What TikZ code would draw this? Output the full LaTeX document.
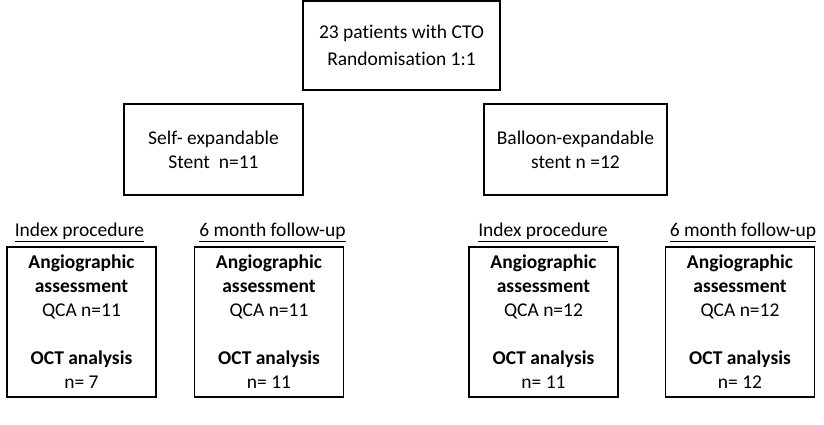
\documentclass[tikz,border=0pt]{standalone}
\usepackage{fontspec}
\setmainfont{Carlito}[Ligatures=NoCommon]
\tikzset{
  armbox/.style={draw, line width=1.3pt, align=center, inner sep=0pt},
  resultbox/.style={draw, line width=1.3pt, align=center, inner sep=0pt,
    minimum width=149pt, minimum height=150pt},
  phase/.style={align=center, inner sep=0pt}
}
\begin{document}
\begin{tikzpicture}[x=1pt, y=1pt, font=\fontsize{19.5}{24}\selectfont]
  \useasboundingbox (0, 0) rectangle (824, 425);

  % Randomisation
  \node [armbox, minimum width=197pt, minimum height=89pt,
    font=\fontsize{19.5}{27}\selectfont] (random) at (401.5, 379.5)
    {23 patients with CTO\\Randomisation 1:1};

  % Two stent arms
  \node [armbox, minimum width=179pt, minimum height=91pt] (selfexp) at (213.5, 275.5)
    {Self- expandable\\Stent\ \ n=11};
  \node [armbox, minimum width=183pt, minimum height=91pt] (balloon) at (575.5, 275.5)
    {Balloon-expandable\\stent n =12};

  % Index procedure and follow-up per arm
  \foreach \name/\cx/\hx/\head/\qca/\oct in {
    selfidx/81.5/79.5/Index procedure/11/7,
    selffup/269/272.5/6 month follow-up/11/11,
    ballidx/543.5/543/Index procedure/12/11,
    ballfup/740/743/6 month follow-up/12/12
  } {
    \node [phase] (\name-head) at (\hx, 193) {\underline{\head}};
    \node [resultbox] (\name) at (\cx, 103)
      {\textbf{Angiographic}\\\textbf{assessment}\\QCA n=\qca\\[24pt]
       \textbf{OCT analysis}\\n= \oct};
  }

\end{tikzpicture}
\end{document}
